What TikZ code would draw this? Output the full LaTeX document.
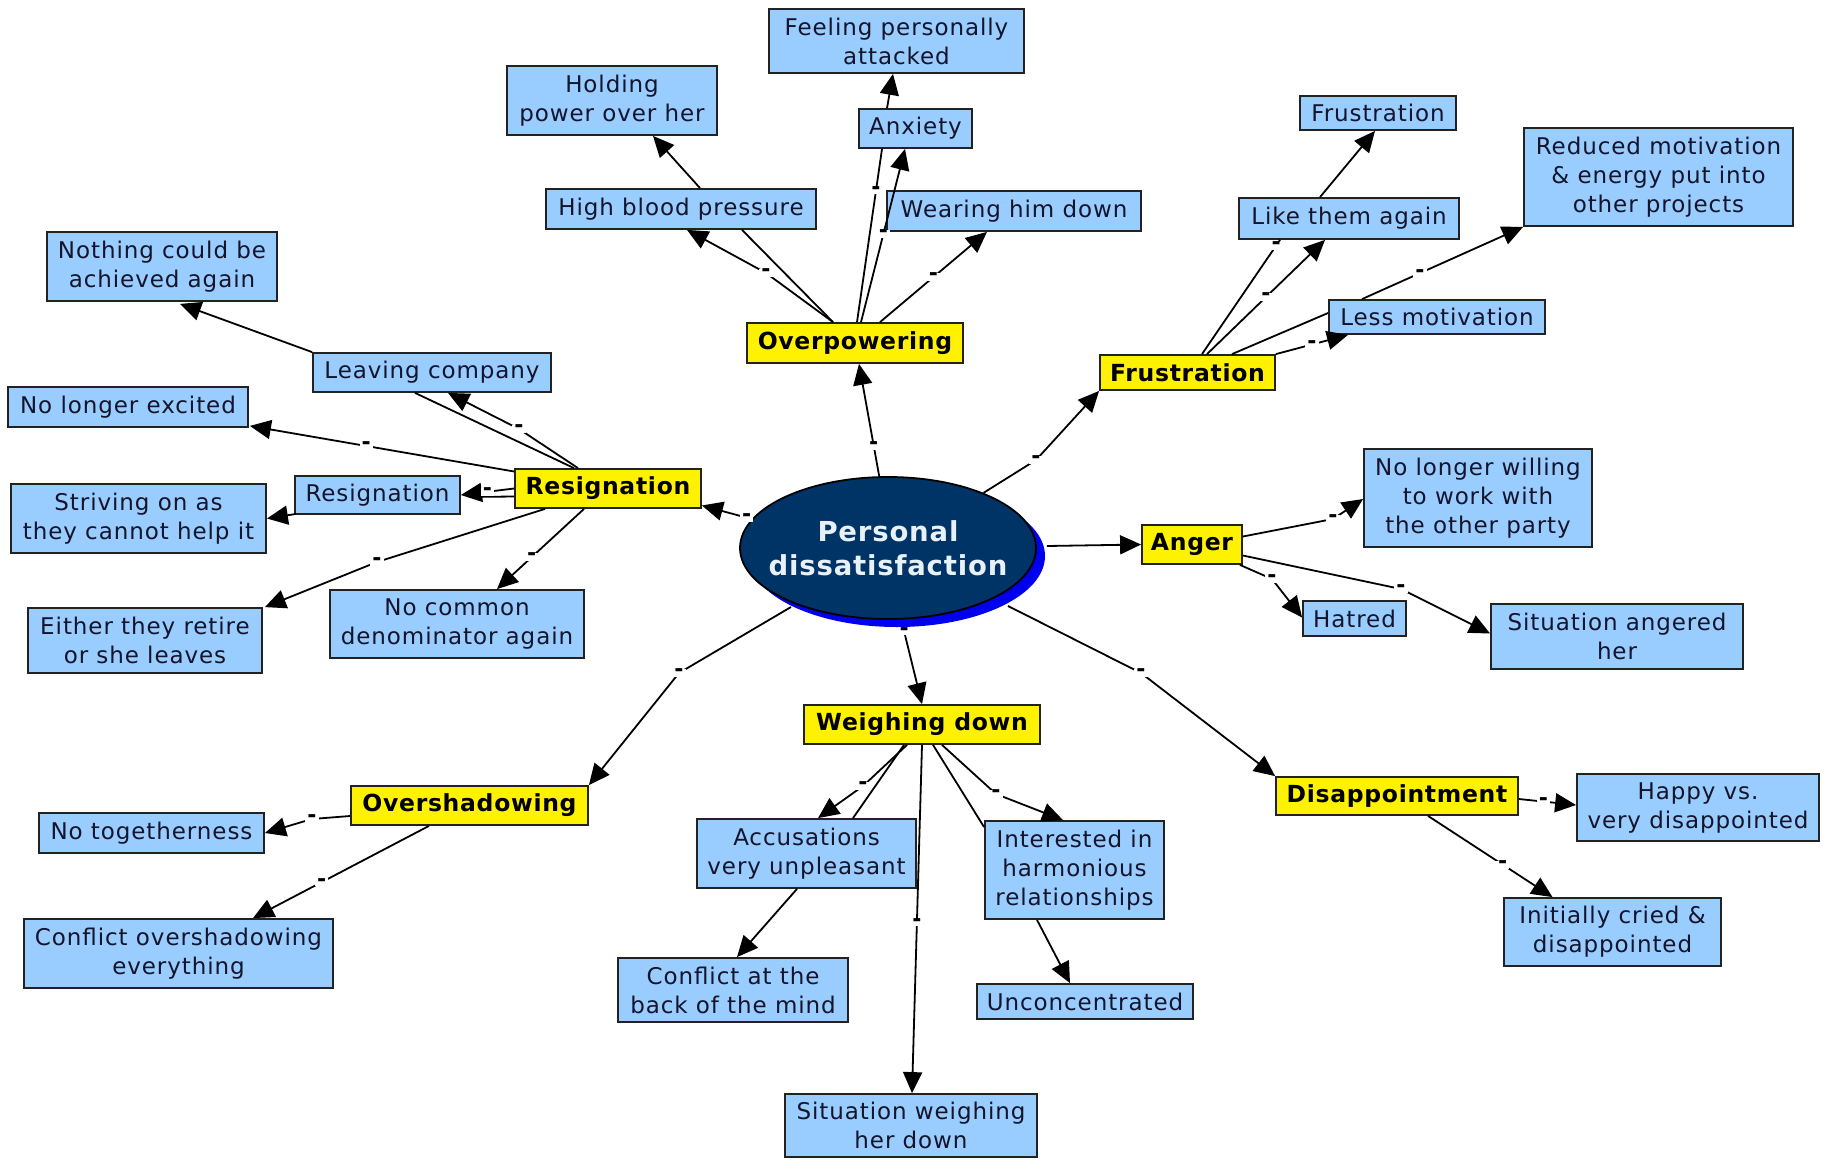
\documentclass[tikz,border=0pt]{standalone}
\usepackage{fontspec}
\usetikzlibrary{arrows.meta,calc,shapes.geometric,shadows}
\newfontfamily\boxfont[LetterSpace=4]{DejaVu Sans}
\newfontfamily\keyfont[LetterSpace=3]{DejaVu Sans}

\definecolor{boxblue}{HTML}{99CCFF}
\definecolor{navy}{HTML}{003366}
\definecolor{shadowblue}{HTML}{0000EE}
\definecolor{ink}{HTML}{14142B}
\definecolor{edge}{HTML}{222222}
\definecolor{pale}{HTML}{E8F0F8}

\tikzset{
  concept/.style={rectangle, draw=edge, line width=1.8pt, fill=boxblue, text=ink,
    font=\boxfont\fontsize{23}{29}\selectfont, align=center, inner sep=0pt},
  theme/.style={rectangle, draw=edge, line width=1.8pt, fill=yellow, text=black,
    font=\keyfont\bfseries\fontsize{23.5}{29}\selectfont, align=center, inner sep=0pt},
  link/.style={draw=black, line width=1.8pt},
  arr/.style={link, -{Triangle[length=21pt,width=19pt]}},
  tick/.style={fill=white, inner xsep=2pt, inner ysep=0pt, text=black,
    font=\keyfont\bfseries\fontsize{22}{22}\selectfont},
}

\begin{document}
\begin{tikzpicture}[x=1pt,y=-1pt]
\fill[white] (0,0) rectangle (1825,1159);
\useasboundingbox (0,0) rectangle (1825,1159);

% central concept
\node[ellipse, draw=black, line width=1.8pt, fill=navy,
      minimum width=296pt, minimum height=142pt, inner sep=0pt,
      drop shadow={shadow xshift=9pt, shadow yshift=-8pt, fill=shadowblue, opacity=1},
      label={[name=pdtext, text=pale, align=center,
              font=\keyfont\bfseries\fontsize{27.5}{34}\selectfont]center:Personal\\dissatisfaction}]
  (pd) at (888,548) {};

% themes
\node[theme, minimum width=216pt, minimum height=40pt] (op)   at (855,343)    {Overpowering};
\node[theme, minimum width=186pt, minimum height=39pt] (resy) at (608,488.5)  {Resignation};
\node[theme, minimum width=175pt, minimum height=35pt] (fry)  at (1187.5,372.5) {Frustration};
\node[theme, minimum width=100pt, minimum height=39pt] (ang)  at (1192,544.5) {Anger};
\node[theme, minimum width=236pt, minimum height=39pt] (wd)   at (922,724.5)  {Weighing down};
\node[theme, minimum width=237pt, minimum height=39pt] (ovs)  at (469.5,805.5) {Overshadowing};
\node[theme, minimum width=242pt, minimum height=38pt] (dis)  at (1397,796)   {Disappointment};

% overpowering branch
\node[concept, minimum width=255pt, minimum height=64pt] (fpa)  at (896.5,41)   {Feeling personally\\attacked};
\node[concept, minimum width=113pt, minimum height=39pt] (anx)  at (915.5,128.5) {Anxiety};
\node[concept, minimum width=254pt, minimum height=40pt] (whd)  at (1014,211)   {Wearing him down};
\node[concept, minimum width=210pt, minimum height=69pt] (hold) at (612,100.5)  {Holding\\power over her};
\node[concept, minimum width=270pt, minimum height=40pt] (hbp)  at (681,209)    {High blood pressure};

% resignation branch
\node[concept, minimum width=230pt, minimum height=69pt] (ncb)    at (162,266.5) {Nothing could be\\achieved again};
\node[concept, minimum width=238pt, minimum height=39pt] (leav)   at (432,372.5) {Leaving company};
\node[concept, minimum width=240pt, minimum height=40pt] (nle)    at (128,407)   {No longer excited};
\node[concept, minimum width=165pt, minimum height=38pt] (resb)   at (377.5,495) {Resignation};
\node[concept, minimum width=255pt, minimum height=69pt] (striv)  at (138.5,518.5) {Striving on as\\they cannot help it};
\node[concept, minimum width=234pt, minimum height=65pt] (either) at (145,640.5) {Either they retire\\or she leaves};
\node[concept, minimum width=254pt, minimum height=68pt] (ncd)    at (457,624)   {No common\\denominator again};

% frustration branch
\node[concept, minimum width=156pt, minimum height=34pt] (frb)   at (1378,113)    {Frustration};
\node[concept, minimum width=220pt, minimum height=41pt] (like)  at (1349,218.5)  {Like them again};
\node[concept, minimum width=216pt, minimum height=34pt] (lessm) at (1437,317)    {Less motivation};
\node[concept, minimum width=269pt, minimum height=98pt] (redm)  at (1658.5,177)  {Reduced motivation\\\& energy put into\\other projects};

% anger branch
\node[concept, minimum width=228pt, minimum height=98pt] (nlw) at (1478,498)   {No longer willing\\to work with\\the other party};
\node[concept, minimum width=103pt, minimum height=35pt] (hat) at (1354.5,618.5) {Hatred};
\node[concept, minimum width=252pt, minimum height=65pt] (sah) at (1617,636.5) {Situation angered\\her};

% weighing-down branch
\node[concept, minimum width=219pt, minimum height=69pt] (acc) at (806.5,853.5) {Accusations\\very unpleasant};
\node[concept, minimum width=230pt, minimum height=64pt] (cbm) at (733,990)     {Conflict at the\\back of the mind};
\node[concept, minimum width=179pt, minimum height=98pt] (ihr) at (1074.5,870)  {Interested in\\harmonious\\relationships};
\node[concept, minimum width=216pt, minimum height=35pt] (unc) at (1085,1001.5) {Unconcentrated};
\node[concept, minimum width=252pt, minimum height=63pt] (swd) at (911,1125.5)  {Situation weighing\\her down};

% overshadowing branch
\node[concept, minimum width=225pt, minimum height=40pt] (notog) at (151.5,833)  {No togetherness};
\node[concept, minimum width=309pt, minimum height=69pt] (cov)   at (178.5,953.5) {Conflict overshadowing\\everything};

% disappointment branch
\node[concept, minimum width=242pt, minimum height=67pt] (happy) at (1698,807.5) {Happy vs.\\very disappointed};
\node[concept, minimum width=217pt, minimum height=68pt] (icd)   at (1612.5,932) {Initially cried \&\\disappointed};

% central concept to themes (links bend at their "-" phrase)
\draw[arr] (pd.97) -- node[tick,pos=0.27]{-} ($(op.south)+(4,0)$);
\draw[arr] (pd.168) -- node[tick,pos=0.1]{-} ($(resy.east)+(0,17)$);
\draw[arr] (pd.30.6) -- (1036,460) node[tick]{-} -- (fry.south west);
\draw[arr] ($(pd.east)+(10,-2)$) -- (ang.west);
\draw[arr] ($(pd.south)+(15,7)$) -- node[tick,pos=0.06]{-} (wd.north);
\draw[arr] ($(pd.center)+(120,58)$) -- (1141,673) node[tick]{-} -- (dis.north west);
\draw[arr] ($(pd.center)+(-97,59)$) -- (679,673) node[tick]{-} -- (ovs.north east);

% overpowering
\draw[arr]  ($(op.north)+(-22,0)$) -- (766,273) node[tick]{-} -- ($(hbp.south)+(6,0)$);
\draw[link] ($(op.north)+(-22,0)$) -- ($(hbp.south)+(61,0)$);
\draw[arr]  ($(hbp.north)+(19,0)$) -- ($(hold.south)+(41,0)$);
\draw[link] ($(op.north)+(2,0)$) -- node[tick,pos=0.76]{-} ($(anx.south)+(-33.5,0)$);
\draw[arr]  ($(op.north)+(6,0)$) -- node[tick,pos=0.51]{-} ($(anx.south)+(-10.5,0)$);
\draw[arr]  ($(anx.north)+(-28.5,0)$) -- ($(fpa.south)+(-3.5,0)$);
\draw[arr]  ($(op.north)+(25,0)$) -- node[tick,pos=0.5]{-} ($(whd.south)+(-27,0)$);

% resignation
\draw[arr]  (leav.north west) -- ($(ncb.south)+(18,2)$);
\draw[link] ($(resy.north)+(-34,0)$) -- ($(leav.south)+(-17,0)$);
\draw[arr]  ($(resy.north)+(-30,0)$) -- (519,429) node[tick]{-} -- ($(leav.south)+(16,0)$);
\draw[arr]  ($(resy.west)+(0,-17)$) -- node[tick,pos=0.56]{-} ($(nle.south east)+(1,-2)$);
\draw[link] ($(resy.west)+(0,8)$) -- ($(resb.east)+(8,2)$);
\draw[arr]  (resy.west) -- node[tick,pos=0.5]{-} (resb.east);
\draw[arr]  ($(resb.south west)+(2,-1)$) -- (striv.east);
\draw[arr]  ($(resy.south)+(-63,0)$) -- (377,562) node[tick]{-} -- ($(either.north east)+(2,0)$);
\draw[arr]  ($(resy.south)+(-24,0)$) -- node[tick,pos=0.6]{-} ($(ncd.north)+(40,0)$);

% frustration
\draw[link] ($(fry.north)+(14.5,0)$) -- node[tick,pos=0.95]{-} ($(like.south)+(-69,0)$);
\draw[arr]  ($(fry.north)+(19.5,0)$) -- node[tick,pos=0.5]{-} ($(like.south)+(-24,0)$);
\draw[arr]  ($(like.north)+(-29,0)$) -- ($(frb.south)+(-3,0)$);
\draw[link] ($(fry.north)+(44.5,0)$) -- ($(lessm.west)+(0,-4)$);
\draw[arr]  ($(lessm.north)+(-75,0)$) -- node[tick,pos=0.36]{-} (redm.south west);
\draw[arr]  (fry.north east) -- node[tick,pos=0.5]{-} ($(lessm.south)+(-89,0)$);

% anger
\draw[arr] ($(ang.east)+(0,-8)$) -- (1333,519) node[tick]{-} -- ($(nlw.west)+(0,1)$);
\draw[arr] ($(ang.south east)+(-3,0)$) -- (1272,579) node[tick]{-} -- ($(hat.west)+(0,-1)$);
\draw[arr] ($(ang.east)+(0,11)$) -- (1401,589) node[tick]{-} -- ($(sah.west)+(0,-3)$);

% weighing down
\draw[arr]  ($(wd.south)+(-15,0)$) -- (863,786) node[tick]{-} -- ($(acc.north)+(11.5,0)$);
\draw[link] ($(wd.south)+(-18,0)$) -- ($(acc.north)+(46.5,0)$);
\draw[arr]  (wd.south) -- node[tick,pos=0.51]{-} ($(swd.north)+(1,0)$);
\draw[link] ($(wd.south)+(11,0)$) -- ($(ihr.north west)+(0,7)$);
\draw[arr]  ($(wd.south)+(20,0)$) -- (996,794) node[tick]{-} -- ($(ihr.north)+(-11.5,0)$);
\draw[arr]  ($(ihr.south)+(-37.5,0)$) -- ($(unc.north)+(-15,0)$);
\draw[arr]  ($(acc.south)+(-9.5,0)$) -- ($(cbm.north)+(4,0)$);

% overshadowing
\draw[arr] ($(ovs.west)+(0,10.5)$) -- (312,819) node[tick]{-} -- (notog.east);
\draw[arr] ($(ovs.south)+(-40.5,0)$) -- node[tick,pos=0.61]{-} ($(cov.north)+(74.5,0)$);

% disappointment
\draw[arr] ($(dis.east)+(0,3)$) -- node[tick,pos=0.43]{-} ($(happy.west)+(0,-2.5)$);
\draw[arr] ($(dis.south)+(31,0)$) -- node[tick,pos=0.6]{-} ($(icd.north)+(-60,0)$);
\end{tikzpicture}
\end{document}
